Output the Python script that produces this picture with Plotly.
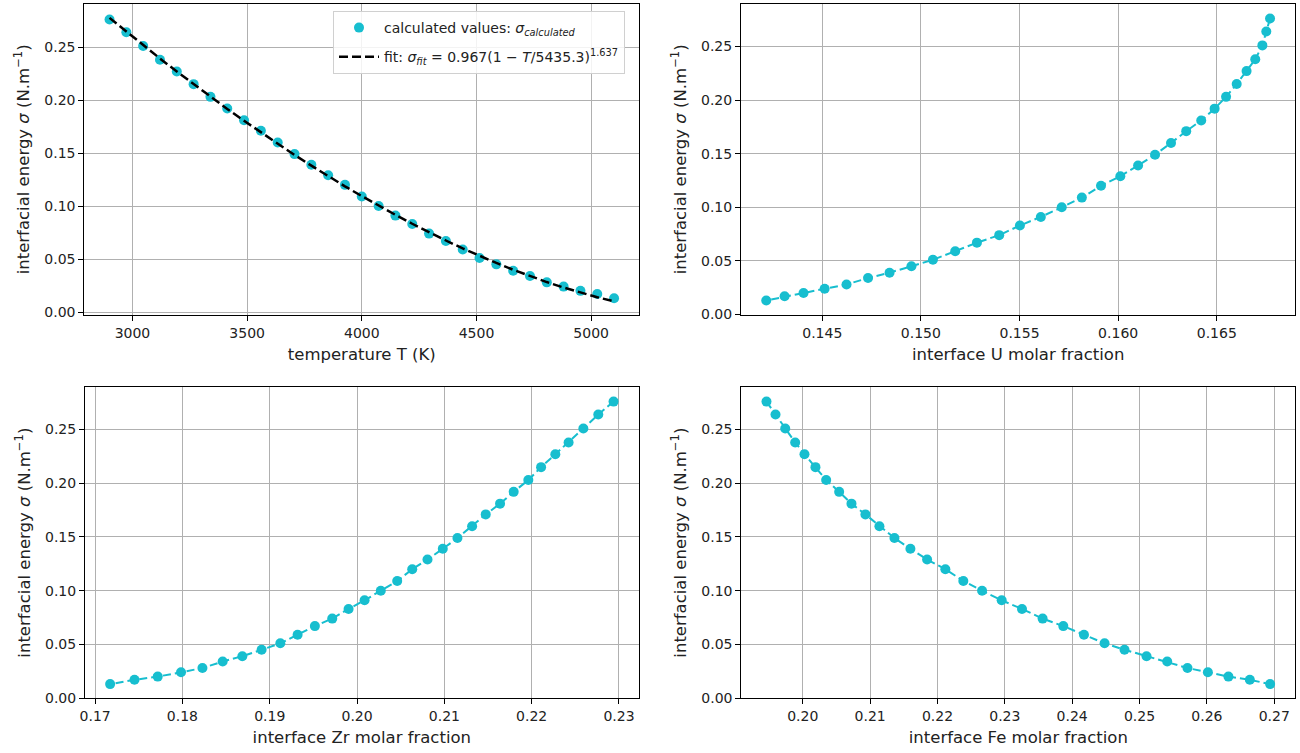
import plotly.graph_objects as go

# ---- data ----
temperature = [2900 + 2200 * i / 30 for i in range(31)]  # 31 evenly spaced temperatures, 2900..5100 K
sigma = [0.276, 0.264, 0.251, 0.238, 0.227, 0.215, 0.203, 0.192, 0.181, 0.171,
         0.160, 0.149, 0.139, 0.129, 0.120, 0.109, 0.100, 0.091, 0.083, 0.074,
         0.067, 0.059, 0.051, 0.045, 0.039, 0.034, 0.028, 0.024, 0.020, 0.017, 0.013]
sigma_fit = [0.2775, 0.2645, 0.2517, 0.2392, 0.2269, 0.2149, 0.2031, 0.1916, 0.1804, 0.1694,
             0.1587, 0.1482, 0.1381, 0.1282, 0.1186, 0.1094, 0.1003, 0.0917, 0.0833, 0.0752,
             0.0675, 0.0600, 0.0530, 0.0463, 0.0399, 0.0339, 0.0283, 0.0231, 0.0183, 0.0140, 0.0101]
x_U = [0.16770, 0.16751, 0.16731, 0.16695, 0.16651, 0.16601, 0.16547, 0.16489, 0.16421, 0.16345,
       0.16268, 0.16187, 0.16101, 0.16011, 0.15913, 0.15816, 0.15714, 0.15608, 0.15502, 0.15397,
       0.15284, 0.15174, 0.15061, 0.14952, 0.14841, 0.14732, 0.14623, 0.14512, 0.14405, 0.14309, 0.14216]
x_Zr = [0.22938, 0.22763, 0.22592, 0.22423, 0.22271, 0.22108, 0.21962, 0.21794, 0.21638, 0.21474,
        0.21318, 0.21150, 0.20982, 0.20807, 0.20632, 0.20460, 0.20272, 0.20086, 0.19903, 0.19716,
        0.19517, 0.19319, 0.19121, 0.18907, 0.18686, 0.18461, 0.18229, 0.17984, 0.17717, 0.17451, 0.17172]
x_Fe = [0.19461, 0.19595, 0.19739, 0.19887, 0.20025, 0.20188, 0.20347, 0.20540, 0.20723, 0.20930,
        0.21138, 0.21361, 0.21598, 0.21846, 0.22117, 0.22384, 0.22662, 0.22953, 0.23255, 0.23561,
        0.23868, 0.24175, 0.24481, 0.24777, 0.25104, 0.25411, 0.25712, 0.26015, 0.26320, 0.26638, 0.26939]

CYAN = "#17becf"
FONT = "DejaVu Sans"
W, H = 1300, 753

fig = go.Figure()

# top-left: temperature
fig.add_trace(go.Scatter(x=temperature, y=sigma, mode="markers",
                         marker=dict(color=CYAN, size=10),
                         name="calculated values: <i>σ<sub>calculated</sub></i>",
                         legendgroup="a",
                         xaxis="x", yaxis="y"))
fig.add_trace(go.Scatter(x=temperature, y=sigma_fit, mode="lines",
                         line=dict(color="black", width=2.5, dash="9px,4px"),
                         name="fit: <i>σ<sub>fit</sub></i> = 0.967(1 − <i>T</i>/5435.3)<sup>1.637</sup>",
                         legendgroup="b",
                         xaxis="x", yaxis="y"))
# other three panels
for xs, xa, ya in [(x_U, "x2", "y2"), (x_Zr, "x3", "y3"), (x_Fe, "x4", "y4")]:
    fig.add_trace(go.Scatter(x=xs, y=sigma, mode="lines+markers",
                             marker=dict(color=CYAN, size=10),
                             line=dict(color=CYAN, width=2, dash="8px,4px"),
                             showlegend=False, xaxis=xa, yaxis=ya))


def px_dom(a, b, total):
    return [a / total, b / total]


def py_dom(top, bottom):
    return [1 - bottom / H, 1 - top / H]


axis_common = dict(showline=True, linecolor="black", linewidth=1, mirror=True,
                   ticks="outside", ticklen=5, tickcolor="black", automargin=False,
                   showgrid=True, gridcolor="#b0b0b0", gridwidth=1, zeroline=False,
                   tickfont=dict(family=FONT, size=14, color="#222"),
                   title_font=dict(family=FONT, size=16.5, color="#222"))

ylabel = "interfacial energy <i>σ</i> (N.m<sup>−1</sup>)"

fig.update_layout(
    width=W, height=H, margin=dict(l=0, r=0, t=0, b=0),
    paper_bgcolor="white", plot_bgcolor="white",
    font=dict(family=FONT, color="#222"),
    xaxis=dict(axis_common, domain=px_dom(84.3, 639.3, W), anchor="y",
               range=[2790, 5210], dtick=500, tickformat="d",
               title=dict(text="temperature T (K)", standoff=8)),
    yaxis=dict(axis_common, domain=py_dom(4, 314.7), anchor="x",
               range=[-0.0025, 0.2906], dtick=0.05, tickformat=".2f",
               title=dict(text=ylabel, standoff=10)),
    xaxis2=dict(axis_common, domain=px_dom(741, 1295.3, W), anchor="y2",
                range=[0.14088, 0.16898], dtick=0.005, tickformat=".3f",
                title=dict(text="interface U molar fraction", standoff=8)),
    yaxis2=dict(axis_common, domain=py_dom(4, 314.7), anchor="x2",
                range=[-0.0002, 0.2896], dtick=0.05, tickformat=".2f",
                title=dict(text=ylabel, standoff=10)),
    xaxis3=dict(axis_common, domain=px_dom(85, 638.7, W), anchor="y3",
                range=[0.16884, 0.23226], dtick=0.01, tickformat=".2f",
                title=dict(text="interface Zr molar fraction", standoff=8)),
    yaxis3=dict(axis_common, domain=py_dom(387, 698.3), anchor="x3",
                range=[-0.0002, 0.2896], dtick=0.05, tickformat=".2f",
                title=dict(text=ylabel, standoff=10)),
    xaxis4=dict(axis_common, domain=px_dom(741.3, 1295.3, W), anchor="y4",
                range=[0.19087, 0.27313], dtick=0.01, tickformat=".2f",
                title=dict(text="interface Fe molar fraction", standoff=8)),
    yaxis4=dict(axis_common, domain=py_dom(387, 698.3), anchor="x4",
                range=[-0.0002, 0.2896], dtick=0.05, tickformat=".2f",
                title=dict(text=ylabel, standoff=10)),
    legend=dict(x=333 / W, y=1 - 11 / H, xanchor="left", yanchor="top",
                bgcolor="rgba(255,255,255,0.85)", bordercolor="#d0d0d0", borderwidth=1,
                font=dict(family=FONT, size=14, color="#222"),
                itemwidth=40, tracegroupgap=8),
)

fig.write_html("out.html", config={"displayModeBar": False},
               post_script="document.body.style.margin='0';document.body.style.overflow='hidden';")
